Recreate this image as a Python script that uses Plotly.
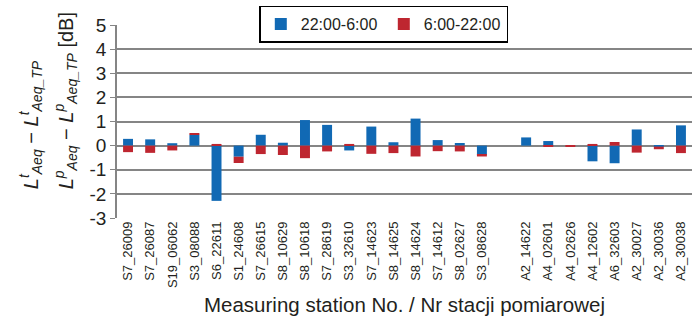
import plotly.graph_objects as go

stations = ["S7_26009", "S7_26087", "S19_06062", "S3_08088", "S6_22611", "S1_24608",
            "S7_26615", "S8_10629", "S8_10618", "S7_28619", "S3_32610", "S7_14623",
            "S8_14625", "S8_14624", "S7_14612", "S8_02627", "S3_08628", " ",
            "A2_14622", "A4_02601", "A4_02626", "A4_12602", "A6_32603", "A2_30027",
            "A2_30036", "A2_30038"]

night = [0.28, 0.26, 0.10, 0.45, -2.29, -0.46,
         0.45, 0.12, 1.06, 0.86, -0.20, 0.79,
         0.14, 1.12, 0.23, 0.11, -0.38, None,
         0.34, 0.19, 0.0, -0.65, -0.73, 0.67,
         -0.04, 0.84]

day = [-0.27, -0.30, -0.20, 0.04, 0.07, -0.26,
       -0.35, -0.39, -0.52, -0.24, 0.07, -0.34,
       -0.31, -0.45, -0.23, -0.24, -0.07, None,
       0.0, -0.04, -0.02, 0.07, 0.15, -0.29,
       -0.11, -0.31]

y_ticks = [5, 4, 3, 2, 1, 0, -1, -2, -3]

title_line1 = ("<i>L</i><sup><i>t</i></sup><sub><i>Aeq</i></sub> \u2212 "
               "<i>L</i><sup><i>t</i></sup><sub><i>Aeq_TP</i></sub>")
title_line2 = ("<i>L</i><sup><i>p</i></sup><sub><i>Aeq</i></sub> \u2212 "
               "<i>L</i><sup><i>p</i></sup><sub><i>Aeq_TP</i></sub> [dB]")

font_family = "Liberation Sans, Arial, sans-serif"

fig = go.Figure()
fig.add_trace(go.Bar(x=stations, y=night, name="22:00-6:00",
                     marker=dict(color="#1169b4", line=dict(width=0))))
fig.add_trace(go.Bar(x=stations, y=day, name="6:00-22:00",
                     marker=dict(color="#be2630", line=dict(width=0))))

fig.add_annotation(text=title_line1, xref="paper", yref="paper",
                   x=-0.150, y=0.14, xanchor="center", yanchor="bottom",
                   textangle=-90, showarrow=False, font=dict(size=20))
fig.add_annotation(text=title_line2, xref="paper", yref="paper",
                   x=-0.089, y=0.14, xanchor="center", yanchor="bottom",
                   textangle=-90, showarrow=False, font=dict(size=20))

fig.update_layout(
    width=698, height=328,
    margin=dict(l=117, r=6, t=22, b=110),
    paper_bgcolor="white", plot_bgcolor="white",
    barmode="relative", bargap=0.55,
    font=dict(family=font_family, color="#231f20"),
    showlegend=True,
    legend=dict(orientation="h", x=0.464, xanchor="center", y=1.10, yanchor="top",
                bgcolor="white", bordercolor="black", borderwidth=1.5,
                font=dict(size=16), entrywidth=78, traceorder="normal"),
    xaxis=dict(type="category", categoryorder="array", categoryarray=stations,
               tickangle=-90, tickfont=dict(size=13), showgrid=False,
               showline=False, ticks="",
               title=dict(text="Measuring station No. / Nr stacji pomiarowej",
                          font=dict(size=20.5), standoff=10)),
    yaxis=dict(range=[-3, 5], tickvals=y_ticks, ticktext=[str(v) for v in y_ticks],
               tickfont=dict(size=19), showgrid=True, gridcolor="#858585", gridwidth=1.8,
               zeroline=True, zerolinecolor="#858585", zerolinewidth=1.8,
               showline=True, linecolor="#858585", linewidth=1.5,
               ticks="outside", ticklen=5, tickcolor="#858585"),
)

fig.write_html("out.html")
